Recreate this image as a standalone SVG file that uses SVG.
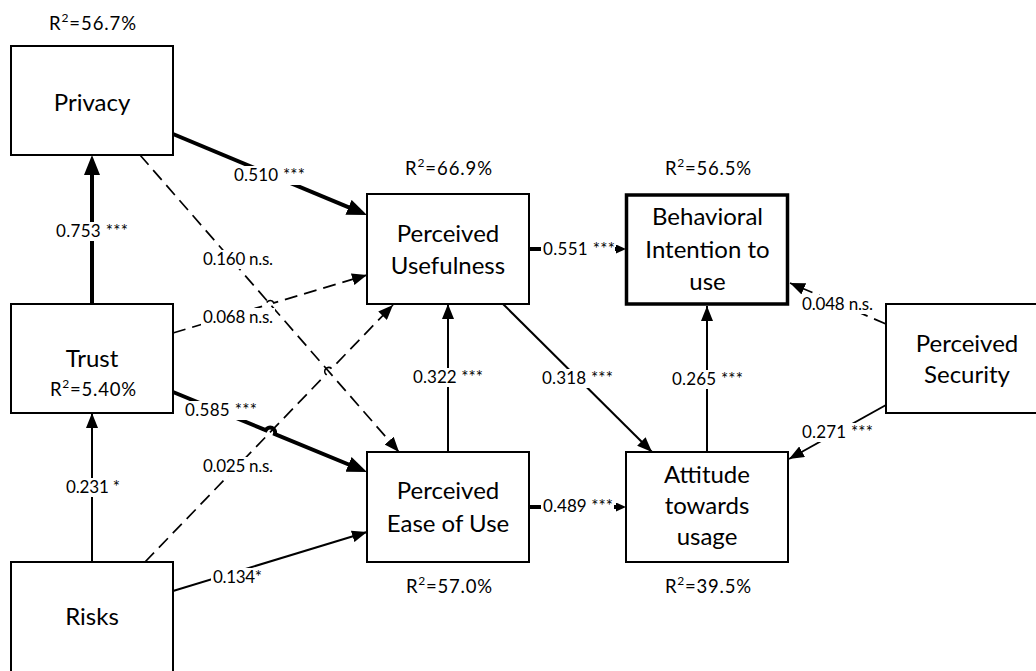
<svg xmlns="http://www.w3.org/2000/svg" width="1036" height="671" viewBox="0 0 1036 671">
<style>
.box{fill:#fff;stroke:#000;stroke-width:2}
.bold{stroke-width:3.5}
.nt{font-family:Lato,"Liberation Sans",sans-serif;font-size:24px;fill:#000;text-anchor:middle}
.r2{font-family:Lato,"Liberation Sans",sans-serif;font-size:18.5px;fill:#000;text-anchor:middle}
.lb{font-family:Lato,"Liberation Sans",sans-serif;font-size:17px;fill:#000;text-anchor:middle}
.bg{fill:#fff;stroke:none}
.thick{fill:none;stroke:#000;stroke-width:4}
.thin{fill:none;stroke:#000;stroke-width:2}
.dash{fill:none;stroke:#000;stroke-width:1.7;stroke-dasharray:13 7}
</style>
<defs>
<marker id="aThick" viewBox="0 0 20 16" refX="12" refY="8" markerWidth="20" markerHeight="16" markerUnits="userSpaceOnUse" orient="auto"><path d="M0,0 L20,8 L0,16 z" fill="#000"/></marker>
<marker id="aThin" viewBox="0 0 15 12" refX="15" refY="6" markerWidth="15" markerHeight="12" markerUnits="userSpaceOnUse" orient="auto"><path d="M0,0 L15,6 L0,12 z" fill="#000"/></marker>
<marker id="aSmall" viewBox="0 0 10 9" refX="5" refY="4.5" markerWidth="10" markerHeight="9" markerUnits="userSpaceOnUse" orient="auto"><path d="M0,0 L10,4.5 L0,9 z" fill="#000"/></marker>
</defs>
<g id="connectors">
<path class="thick" d="M173,134 L359.6,211.9" marker-end="url(#aThick)"/>
<path class="thick" d="M92,304 L92,163" marker-end="url(#aThick)"/>
<path class="dash" d="M140,155 L399,452" marker-end="url(#aThin)"/>
<path class="dash" d="M173,333 L266.2,305.1 A4,4 0 0 1 273.8,302.9 L367,275" marker-end="url(#aThin)"/>
<path class="dash" d="M145,562 L326,374.4 A4,4 0 0 1 331.6,368.6 L393,305" marker-end="url(#aThin)"/>
<path class="thick" d="M173,392 L265.7,430.2 A5,5 0 0 1 274.9,434 L359.6,469" marker-end="url(#aThick)"/>
<path class="thin" d="M92,562 L92,413" marker-end="url(#aThin)"/>
<path class="thin" d="M173,591 L367,532" marker-end="url(#aThin)"/>
<path class="thin" d="M448,452 L448,304" marker-end="url(#aThin)"/>
<path class="thick" d="M529,249 L621,249" marker-end="url(#aSmall)"/>
<path class="thick" d="M529,507 L621,507" marker-end="url(#aSmall)"/>
<path class="thin" d="M503,304 L652,452" marker-end="url(#aThin)"/>
<path class="thin" d="M707,452 L707,306" marker-end="url(#aThin)"/>
<path class="dash" d="M886,324 L790,283" marker-end="url(#aThin)"/>
<path class="thin" d="M886,405 L789,459" marker-end="url(#aThin)"/>
<g id="labels">
<rect class="bg" x="232" y="166" width="75" height="19"/><text class="lb" x="269.5" y="181" textLength="71" lengthAdjust="spacing">0.510 ***</text>
<rect class="bg" x="54" y="222" width="76" height="19"/><text class="lb" x="92" y="237" textLength="72" lengthAdjust="spacing">0.753 ***</text>
<rect class="bg" x="201" y="250" width="74" height="19"/><text class="lb" x="238" y="265" textLength="70" lengthAdjust="spacing">0.160 n.s.</text>
<rect class="bg" x="201" y="308" width="74" height="19"/><text class="lb" x="238" y="323" textLength="70" lengthAdjust="spacing">0.068 n.s.</text>
<rect class="bg" x="183" y="401" width="76" height="19"/><text class="lb" x="221" y="416" textLength="72" lengthAdjust="spacing">0.585 ***</text>
<rect class="bg" x="201" y="457" width="74" height="19"/><text class="lb" x="238" y="472" textLength="70" lengthAdjust="spacing">0.025 n.s.</text>
<rect class="bg" x="64" y="478" width="58" height="19"/><text class="lb" x="93" y="493" textLength="54" lengthAdjust="spacing">0.231 *</text>
<rect class="bg" x="211" y="568" width="53" height="19"/><text class="lb" x="237.5" y="583" textLength="49" lengthAdjust="spacing">0.134*</text>
<rect class="bg" x="411" y="368" width="74" height="19"/><text class="lb" x="448" y="383" textLength="70" lengthAdjust="spacing">0.322 ***</text>
<rect class="bg" x="540" y="369" width="75" height="19"/><text class="lb" x="577.5" y="384" textLength="71" lengthAdjust="spacing">0.318 ***</text>
<rect class="bg" x="670" y="370" width="75" height="19"/><text class="lb" x="707.5" y="385" textLength="71" lengthAdjust="spacing">0.265 ***</text>
<rect class="bg" x="541" y="240" width="74" height="19"/><text class="lb" x="579" y="255" textLength="72" lengthAdjust="spacing">0.551 ***</text>
<rect class="bg" x="541" y="497" width="73" height="19"/><text class="lb" x="578" y="512" textLength="70" lengthAdjust="spacing">0.489 ***</text>
<rect class="bg" x="800" y="295" width="75" height="19"/><text class="lb" x="837.5" y="310" textLength="71" lengthAdjust="spacing">0.048 n.s.</text>
<rect class="bg" x="800" y="423" width="75" height="19"/><text class="lb" x="837.5" y="438" textLength="71" lengthAdjust="spacing">0.271 ***</text>
</g>
</g>
<g id="privacy">
<rect class="box" x="11" y="46" width="162" height="109"/>
<text class="nt" x="92" y="111">Privacy</text>
<text class="r2" x="92.5" y="30" textLength="87" lengthAdjust="spacing">R<tspan font-size="12" dy="-8">2</tspan><tspan dy="8">=56.7%</tspan></text>
</g>
<g id="trust">
<rect class="box" x="11" y="304" width="162" height="109"/>
<text class="nt" x="92" y="367">Trust</text>
<text class="r2" x="93" y="396" textLength="86" lengthAdjust="spacing">R<tspan font-size="12" dy="-8">2</tspan><tspan dy="8">=5.40%</tspan></text>
</g>
<g id="risks">
<rect class="box" x="11" y="562" width="162" height="112"/>
<text class="nt" x="92" y="625">Risks</text>
</g>
<g id="pu">
<rect class="box" x="367" y="194" width="162" height="110"/>
<text class="nt" x="448" y="242">Perceived</text>
<text class="nt" x="448" y="274">Usefulness</text>
<text class="r2" x="448.5" y="175" textLength="87" lengthAdjust="spacing">R<tspan font-size="12" dy="-8">2</tspan><tspan dy="8">=66.9%</tspan></text>
</g>
<g id="peou">
<rect class="box" x="367" y="452" width="162" height="110"/>
<text class="nt" x="448" y="499">Perceived</text>
<text class="nt" x="448" y="532">Ease of Use</text>
<text class="r2" x="449" y="593" textLength="86" lengthAdjust="spacing">R<tspan font-size="12" dy="-8">2</tspan><tspan dy="8">=57.0%</tspan></text>
</g>
<g id="bi">
<rect class="box bold" x="626.5" y="195" width="161" height="109"/>
<text class="nt" x="707.5" y="225">Behavioral</text>
<text class="nt" x="707.5" y="258">Intention to</text>
<text class="nt" x="707.5" y="290">use</text>
<text class="r2" x="708" y="175" textLength="86" lengthAdjust="spacing">R<tspan font-size="12" dy="-8">2</tspan><tspan dy="8">=56.5%</tspan></text>
</g>
<g id="attitude">
<rect class="box" x="626" y="452" width="162" height="110"/>
<text class="nt" x="707" y="483">Attitude</text>
<text class="nt" x="707" y="514">towards</text>
<text class="nt" x="707" y="545">usage</text>
<text class="r2" x="708" y="593" textLength="86" lengthAdjust="spacing">R<tspan font-size="12" dy="-8">2</tspan><tspan dy="8">=39.5%</tspan></text>
</g>
<g id="ps">
<rect class="box" x="886" y="304" width="162" height="109"/>
<text class="nt" x="967" y="352">Perceived</text>
<text class="nt" x="967" y="383">Security</text>
</g>
</svg>
